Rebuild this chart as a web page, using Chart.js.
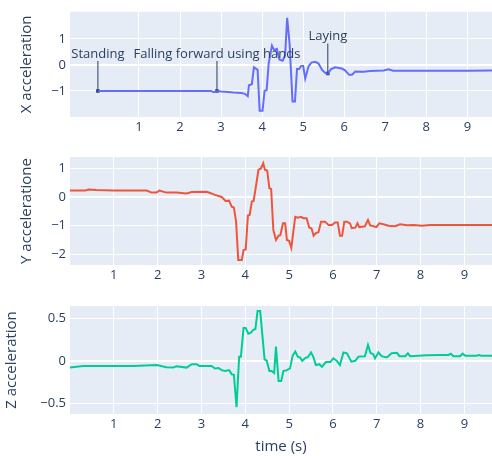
<!DOCTYPE html>
<html>
<head>
<meta charset="utf-8">
<script src="https://cdn.jsdelivr.net/npm/chart.js@4.4.1/dist/chart.umd.min.js"></script>
<style>
  body { margin: 0; background: #fff; }
  #wrap { position: relative; width: 492px; height: 456px; }
  canvas { position: absolute; left: 0; }
</style>
</head>
<body>
<div id="wrap">
  <canvas id="chartX" width="492" height="135" style="top:0px"></canvas>
  <canvas id="chartY" width="492" height="145" style="top:140px"></canvas>
  <canvas id="chartZ" width="492" height="166" style="top:290px"></canvas>
</div>
<script>
// X acceleration
var timeX = [0, 0.5, 1, 1.5, 2, 2.5, 2.75, 2.82, 2.9, 3.0, 3.1, 3.3, 3.5, 3.58, 3.65, 3.68, 3.75, 3.80, 3.89, 3.94,
    4.01, 4.06, 4.11, 4.16, 4.24, 4.29, 4.36, 4.42, 4.50, 4.56, 4.61, 4.67, 4.74, 4.80, 4.85, 4.90, 4.95, 5.00,
    5.05, 5.13, 5.20, 5.29, 5.37, 5.46, 5.54, 5.60, 5.68, 5.78, 5.94, 6.02, 6.12, 6.19, 6.27, 6.47, 6.63, 6.96,
    7.08, 7.19, 7.5, 8, 8.5, 9, 9.7];
var accX = [-1, -1, -1, -1, -1, -1, -1, -1.05, -1, -1.02, -1.03, -1.06, -1.08, -1.11, -1.2, -0.78, -0.74, -0.09, -0.19, -1.76,
    -1.76, -0.99, -0.97, 0.06, 0.74, 0.58, 0.62, 0.21, 0.16, 0.37, 1.81, 0.80, -1.40, -1.40, -0.16, -0.16, -0.04, -0.04,
    -0.52, -0.06, 0.09, 0.12, 0.06, -0.19, -0.31, -0.33, -0.16, -0.09, -0.14, -0.21, -0.38, -0.38, -0.25, -0.26, -0.23, -0.21,
    -0.17, -0.22, -0.22, -0.22, -0.22, -0.22, -0.21];

// Y acceleration
var timeY = [0, 0.35, 0.42, 0.6, 1.0, 1.5, 1.75, 1.86, 1.97, 2.04, 2.2, 2.43, 2.66, 2.78, 3.12, 3.21, 3.31, 3.46, 3.55, 3.63,
    3.69, 3.74, 3.79, 3.84, 3.92, 3.96, 4.01, 4.06, 4.10, 4.15, 4.19, 4.26, 4.30, 4.36, 4.41, 4.45, 4.50, 4.55, 4.59,
    4.64, 4.70, 4.76, 4.80, 4.86, 4.91, 4.95, 5.0, 5.05, 5.14, 5.20, 5.27, 5.32, 5.40, 5.46, 5.51, 5.56, 5.61, 5.67,
    5.73, 5.82, 5.90, 5.98, 6.05, 6.11, 6.16, 6.21, 6.26, 6.32, 6.39, 6.43, 6.51, 6.56, 6.60, 6.73, 6.80, 6.85, 6.93,
    6.99, 7.06, 7.15, 7.27, 7.42, 7.53, 7.69, 7.84, 8.03, 8.22, 8.6, 9.0, 9.4, 9.7];
var accY = [0.22, 0.22, 0.26, 0.24, 0.22, 0.22, 0.22, 0.15, 0.15, 0.22, 0.15, 0.15, 0.12, 0.17, 0.18, 0.13, 0.07, 0.0, -0.14, -0.13,
    -0.34, -0.37, -0.86, -2.2, -2.2, -1.85, -1.83, -0.65, -0.63, -0.16, -0.14, 0.53, 0.94, 1.0, 1.17, 0.94, 0.92, 0.30, 0.28,
    -1.15, -1.50, -1.35, -1.33, -0.92, -0.92, -1.50, -1.53, -1.77, -0.69, -0.72, -0.69, -0.74, -0.74, -1.07, -1.09, -1.35, -1.26, -1.23,
    -0.86, -0.86, -0.98, -0.98, -0.89, -0.89, -1.35, -1.35, -0.86, -0.86, -0.92, -1.09, -1.07, -0.92, -1.05, -1.02, -0.80, -0.99, -1.02,
    -1.05, -0.92, -0.95, -1.0, -1.02, -0.95, -0.99, -0.98, -1.0, -0.98, -0.98, -0.98, -0.98, -0.98];

// Z acceleration
var timeZ = [0, 0.3, 1.45, 1.98, 2.2, 2.35, 2.43, 2.66, 2.78, 2.89, 2.95, 3.23, 3.31, 3.39, 3.46, 3.54, 3.63, 3.69, 3.74, 3.80,
    3.86, 3.90, 3.96, 4.01, 4.07, 4.12, 4.19, 4.23, 4.28, 4.34, 4.44, 4.49, 4.55, 4.60, 4.66, 4.70, 4.76, 4.82, 4.87,
    4.95, 5.02, 5.08, 5.14, 5.20, 5.25, 5.30, 5.36, 5.43, 5.50, 5.55, 5.61, 5.69, 5.75, 5.84, 5.94, 6.01, 6.09, 6.16,
    6.24, 6.32, 6.42, 6.51, 6.58, 6.73, 6.80, 6.86, 6.92, 6.96, 7.04, 7.11, 7.23, 7.34, 7.46, 7.52, 7.65, 7.71, 7.76,
    8.14, 8.45, 8.64, 8.69, 8.75, 8.90, 8.96, 9.02, 9.28, 9.33, 9.39, 9.7];
var accZ = [-0.08, -0.06, -0.06, -0.05, -0.075, -0.08, -0.065, -0.08, -0.04, -0.04, -0.06, -0.06, -0.09, -0.085, -0.11, -0.12, -0.11, -0.16, -0.165, -0.55,
    0.05, 0.05, 0.39, 0.39, 0.32, 0.33, 0.37, 0.375, 0.59, 0.59, 0.02, 0.0, -0.12, -0.12, -0.145, 0.17, -0.24, -0.24, -0.12,
    -0.11, -0.09, 0.06, 0.11, 0.05, 0.04, 0.0, 0.03, 0.045, 0.10, 0.05, -0.05, -0.04, -0.07, -0.015, -0.015, 0.03, 0.0, -0.05,
    0.10, 0.09, -0.01, 0.0, 0.05, 0.055, 0.19, 0.09, 0.08, 0.03, 0.10, 0.055, 0.04, 0.09, 0.095, 0.055, 0.055, 0.09, 0.055,
    0.065, 0.07, 0.07, 0.085, 0.055, 0.055, 0.085, 0.06, 0.06, 0.07, 0.06, 0.06];

// annotations on the X plot
var annoText = ['Standing', 'Falling forward using hands', 'Laying'];
var annoTime = [0, 2.9, 5.6];
var annoValue = [-1, -1, -0.33];

var xTicks = [1, 2, 3, 4, 5, 6, 7, 8, 9];
var yTicksX = [-1, 0, 1];
var yTicksY = [-2, -1, 0, 1];
var yTicksZ = [-0.5, 0, 0.5];

var fontColor = '#2a3f5f';
var fontFamily = '"Open Sans", verdana, arial, sans-serif';
Chart.defaults.font.family = fontFamily;
Chart.defaults.font.size = 13;
Chart.defaults.color = fontColor;

function toPoints(ts, vs) {
    var pts = [];
    for (var i = 0; i < ts.length; i++) pts.push({x: ts[i], y: vs[i]});
    return pts;
}

function fmt(v) {
    return v < 0 ? '\u2212' + Math.abs(v) : String(v);
}

var plotBg = {
    id: 'plotBg',
    beforeDraw: function(chart) {
        var a = chart.chartArea, c = chart.ctx;
        c.save();
        c.fillStyle = '#E5ECF6';
        c.fillRect(a.left, a.top, a.right - a.left, a.bottom - a.top);
        c.restore();
    }
};

var arrows = {
    id: 'arrows',
    afterDatasetsDraw: function(chart) {
        if (chart.canvas.id != 'chartX') return;
        var c = chart.ctx;
        c.save();
        c.strokeStyle = fontColor;
        c.lineWidth = 1;
        c.fillStyle = fontColor;
        c.font = '13px ' + fontFamily;
        c.textAlign = 'center';
        c.textBaseline = 'middle';
        for (var i = 0; i < annoText.length; i++) {
            var px = chart.scales.x.getPixelForValue(annoTime[i]);
            var py = chart.scales.y.getPixelForValue(annoValue[i]);
            c.beginPath();
            c.moveTo(px, py - 30);
            c.lineTo(px, py);
            c.stroke();
            c.fillText(annoText[i], px, py - 37);
        }
        c.restore();
    }
};

function makeChart(id, ts, vs, color, xmin, xmax, ymin, ymax, yTicks, yTitle, titlePad, padTop, xHeight, xTitle) {
    var datasets = [{
        data: toPoints(ts, vs),
        borderColor: color,
        borderWidth: 2,
        pointRadius: 0,
        tension: 0,
        fill: false
    }];
    if (id == 'chartX') {
        datasets.push({
            data: toPoints(annoTime, annoValue),
            showLine: false,
            pointStyle: 'rect',
            pointRadius: 2.5,
            backgroundColor: fontColor,
            borderColor: fontColor,
            borderWidth: 0
        });
    }
    var grid = {
        color: '#ffffff',
        lineWidth: function(ctx) { return ctx.tick && ctx.tick.value === 0 ? 2 : 1; },
        drawTicks: false
    };
    return new Chart(document.getElementById(id).getContext('2d'), {
        type: 'line',
        data: {datasets: datasets},
        plugins: [plotBg, arrows],
        options: {
            responsive: false,
            animation: false,
            layout: {autoPadding: false, padding: {top: padTop, left: 0, right: 0, bottom: 0}},
            plugins: {legend: {display: false}, tooltip: {enabled: false}},
            scales: {
                x: {
                    type: 'linear',
                    min: xmin,
                    max: xmax,
                    border: {display: false},
                    grid: grid,
                    ticks: {padding: 2, maxRotation: 0, callback: fmt},
                    afterBuildTicks: function(s) { s.ticks = xTicks.map(function(v) { return {value: v}; }); },
                    afterFit: function(s) { s.height = xHeight; },
                    title: {display: !!xTitle, text: xTitle, font: {size: 15}, padding: 0}
                },
                y: {
                    min: ymin,
                    max: ymax,
                    border: {display: false},
                    grid: grid,
                    ticks: {padding: 4, callback: fmt},
                    afterBuildTicks: function(s) { s.ticks = yTicks.map(function(v) { return {value: v}; }); },
                    afterFit: function(s) { s.width = 70; },
                    title: {display: true, text: yTitle, font: {size: 15}, padding: {top: titlePad, bottom: 0}}
                }
            }
        }
    });
}

window.onload = function() {
    makeChart('chartX', timeX, accX, '#636efa', -0.68, 9.6, -2.0, 2.04, yTicksX, 'X acceleration', 18, 8, 18, '');
    makeChart('chartY', timeY, accY, '#EF553B', 0, 9.63, -2.37, 1.39, yTicksY, 'Y acceleratione', 18, 17, 20, '');
    makeChart('chartZ', timeZ, accZ, '#00cc96', 0, 9.63, -0.63, 0.65, yTicksZ, 'Z acceleration', 3, 16, 42, 'time (s)');
};
</script>
</body>
</html>
